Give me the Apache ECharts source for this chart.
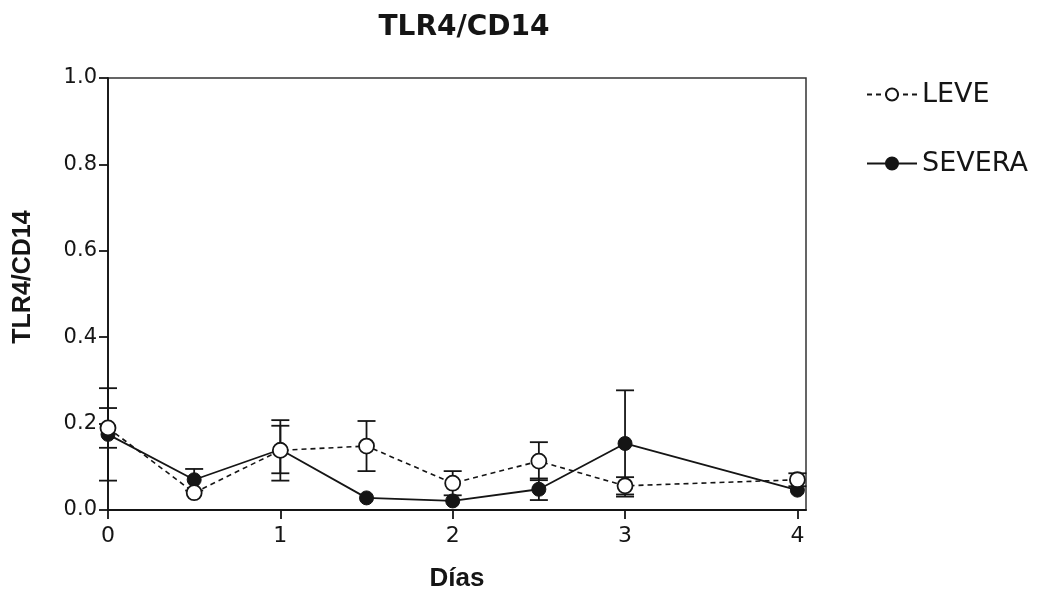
<!DOCTYPE html>
<html>
<head>
<meta charset="utf-8">
<script src="https://cdn.jsdelivr.net/npm/echarts@6/dist/echarts.min.js"></script>
<style>
  html, body { margin: 0; padding: 0; background: #fff; }
  #chart { width: 1042px; height: 591px; }
</style>
</head>
<body>
<div id="chart"></div>
<script>
// Sampling days
const days = [0, 0.5, 1, 1.5, 2, 2.5, 3, 4];

// TLR4/CD14 ratio, mild group (mean and error)
const leveMean = [0.19, 0.04, 0.138, 0.148, 0.062, 0.113, 0.056, 0.07];
const leveErr  = [0.046, 0, 0.07, 0.058, 0.028, 0.044, 0.02, 0.015];

// TLR4/CD14 ratio, severe group (mean and error)
const severaMean = [0.175, 0.07, 0.14, 0.028, 0.021, 0.048, 0.154, 0.046];
const severaErr  = [0.107, 0.025, 0.055, 0, 0, 0.025, 0.123, 0];

const yTicks = [0, 0.2, 0.4, 0.6, 0.8, 1.0];
const xTicks = [0, 1, 2, 3, 4];

const INK = '#151515';

const pairs = (xs, ys) => xs.map((x, i) => [x, ys[i]]);
const bars = (xs, m, e) => xs.map((x, i) => [x, m[i] - e[i], m[i] + e[i]]).filter((d, i) => e[i] > 0);

function errorBar(params, api) {
  const x = api.value(0);
  const lo = api.coord([x, api.value(1)]);
  const hi = api.coord([x, api.value(2)]);
  const hw = 9;
  const style = { stroke: INK, lineWidth: 1.8, fill: null };
  return {
    type: 'group',
    children: [
      { type: 'line', shape: { x1: lo[0], y1: lo[1], x2: hi[0], y2: hi[1] }, style },
      { type: 'line', shape: { x1: lo[0] - hw, y1: lo[1], x2: lo[0] + hw, y2: lo[1] }, style },
      { type: 'line', shape: { x1: hi[0] - hw, y1: hi[1], x2: hi[0] + hw, y2: hi[1] }, style }
    ]
  };
}

const chart = echarts.init(document.getElementById('chart'), null, { renderer: 'canvas' });

chart.setOption({
  animation: false,
  backgroundColor: '#fff',
  title: {
    text: 'TLR4/CD14',
    left: 459,
    top: 9,
    textAlign: 'center',
    textStyle: { fontFamily: 'DejaVu Sans', fontWeight: 'bold', fontSize: 28, color: INK }
  },
  legend: {
    data: ['LEVE', 'SEVERA'],
    orient: 'vertical',
    left: 861,
    top: 76,
    itemWidth: 50,
    itemHeight: 15,
    itemGap: 42,
    textStyle: { fontFamily: 'DejaVu Sans', fontSize: 27, color: INK, padding: [0, 0, 0, 0] }
  },
  grid: {
    left: 108, right: 236, top: 78, bottom: 81,
    outerBoundsMode: 'none',
    containLabel: false,
    show: true, borderColor: '#333', borderWidth: 1.5
  },
  xAxis: {
    type: 'value',
    min: 0, max: 4.05, interval: 1,
    name: 'Días',
    nameLocation: 'middle',
    nameGap: 56,
    nameTextStyle: { fontFamily: 'Liberation Sans', fontWeight: 'bold', fontSize: 26, color: INK },
    axisLine: { lineStyle: { color: INK, width: 1.8 } },
    axisTick: { show: true, length: 9, inside: false, lineStyle: { color: INK, width: 1.8 } },
    axisLabel: {
      margin: 15,
      fontFamily: 'DejaVu Sans', fontSize: 22, color: INK,
      showMaxLabel: false,
      formatter: v => (xTicks.indexOf(v) >= 0 ? String(v) : '')
    },
    splitLine: { show: false }
  },
  yAxis: {
    type: 'value',
    min: 0, max: 1.0, interval: 0.2,
    name: 'TLR4/CD14',
    nameLocation: 'middle',
    nameGap: 72,
    nameTextStyle: { fontFamily: 'Liberation Sans', fontWeight: 'bold', fontSize: 25, color: INK, padding: [0, 0, 0, 34] },
    axisLine: { lineStyle: { color: INK, width: 1.8 } },
    axisTick: { show: true, length: 9, lineStyle: { color: INK, width: 1.8 } },
    axisLabel: {
      margin: 11,
      fontFamily: 'DejaVu Sans', fontSize: 21, color: INK,
      formatter: v => yTicks.find(t => Math.abs(t - v) < 1e-9).toFixed(1)
    },
    splitLine: { show: false }
  },
  series: [
    {
      name: 'SEVERA-err',
      type: 'custom',
      renderItem: errorBar,
      data: bars(days, severaMean, severaErr),
      encode: { x: 0, y: [1, 2] },
      z: 2,
      silent: true
    },
    {
      name: 'LEVE-err',
      type: 'custom',
      renderItem: errorBar,
      data: bars(days, leveMean, leveErr),
      encode: { x: 0, y: [1, 2] },
      z: 2,
      silent: true
    },
    {
      name: 'SEVERA',
      type: 'line',
      data: pairs(days, severaMean),
      symbol: 'circle',
      symbolSize: 14,
      lineStyle: { color: INK, width: 1.8, type: 'solid' },
      itemStyle: { color: INK, borderColor: INK, borderWidth: 1 },
      z: 3
    },
    {
      name: 'LEVE',
      type: 'line',
      data: pairs(days, leveMean),
      symbol: 'circle',
      symbolSize: 15,
      lineStyle: { color: INK, width: 1.6, type: [5, 4] },
      itemStyle: { color: '#fff', borderColor: INK, borderWidth: 1.8 },
      z: 4
    }
  ]
});
</script>
</body>
</html>
